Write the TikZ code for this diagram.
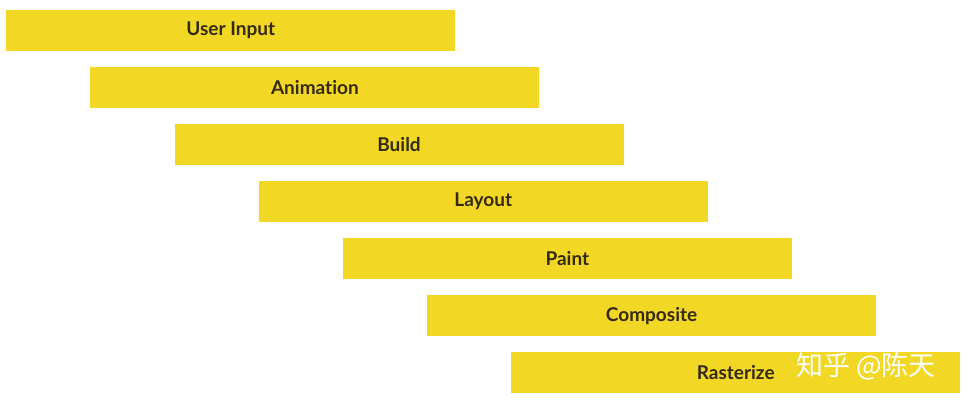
\documentclass[tikz,border=0pt]{standalone}
\usepackage{fontspec}
\setmainfont{Lato}[Ligatures=NoCommon]
\newfontfamily\cjkfont{Noto Sans CJK SC}
\usepackage{xcolor}
\usetikzlibrary{positioning}
\definecolor{baryellow}{RGB}{242,215,36}
\definecolor{bartext}{RGB}{52,42,14}

\tikzset{
    stagebar/.style={fill=baryellow, draw=none, minimum width=449pt, minimum height=41pt,
        inner sep=0pt, anchor=north west, text=bartext, font=\bfseries\fontsize{19}{22}\selectfont},
    watermark/.style={text=white, font=\cjkfont\fontsize{27}{30}\selectfont, inner sep=0pt}
}

\begin{document}
\begin{tikzpicture}[x=1pt, y=1pt]
\useasboundingbox (0,0) rectangle (967,-405);
% pipeline stages, each shifted right and down
\foreach \stage [count=\i from 0] in {User Input, Animation, Build, Layout, Paint, Composite, Rasterize}
    \node[stagebar] (stage-\i) at ({6+84.17*\i}, {-10-57*\i}) {\stage};
\node[watermark] (mark) at (866,-366) {知乎 @陈天};
\end{tikzpicture}
\end{document}
